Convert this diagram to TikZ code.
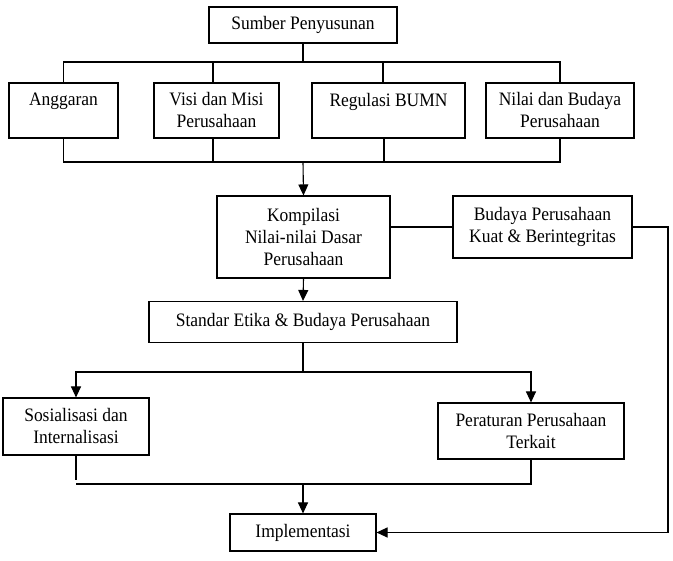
\documentclass[tikz,border=0pt]{standalone}
\usepackage{fontspec}
\setmainfont{Liberation Serif}[FakeStretch=0.92]
\usetikzlibrary{arrows.meta}
\tikzset{
  box/.style={draw, line width=1.1pt, align=center, inner sep=0pt,
    font=\fontsize{19}{22}\selectfont},
  conn/.style={line width=1.1pt},
  arr/.style={line width=1.1pt, -{Triangle[length=11pt,width=10pt]}},
}
\begin{document}
\begin{tikzpicture}[x=1pt,y=-1pt]
\useasboundingbox (0,0) rectangle (673,561);
\node[box, minimum width=188pt, minimum height=36pt] (src) at (303,25) {Sumber Penyusunan};
\node[box, minimum width=109pt, minimum height=55pt] (ang) at (63.5,110.5) {Anggaran\\\mbox{}};
\node[box, minimum width=125pt, minimum height=55pt] (vis) at (216.5,110.5) {Visi dan Misi\\Perusahaan};
\node[box, minimum width=153pt, minimum height=55pt] (reg) at (388.5,110.5) {Regulasi BUMN\\\mbox{}};
\node[box, minimum width=148pt, minimum height=55pt] (nil) at (560,110.5) {Nilai dan Budaya\\Perusahaan};
\node[box, minimum width=173pt, minimum height=82pt] (kom) at (303.5,237) {Kompilasi\\Nilai-nilai Dasar\\Perusahaan};
\node[box, minimum width=179pt, minimum height=62pt] (bud) at (542.5,227) {Budaya Perusahaan\\Kuat \& Berintegritas};
\node[box, minimum width=308pt, minimum height=41pt] (std) at (303,322) {Standar Etika \& Budaya Perusahaan};
\node[box, minimum width=146pt, minimum height=57pt] (sos) at (76,426.5) {Sosialisasi dan\\Internalisasi};
\node[box, minimum width=186pt, minimum height=56pt] (per) at (531,431) {Peraturan Perusahaan\\Terkait};
\node[box, minimum width=146pt, minimum height=37pt] (imp) at (303,532.5) {Implementasi};

\coordinate (tb) at (303,62);
\coordinate (bb) at (303,162);
\coordinate (mb) at (303,372);
\coordinate (lb) at (303,484);
\coordinate (rr) at (668,227);

% top fan-out
\draw[conn] (src.south) -- (tb);
\draw[conn] (ang.north) |- (tb -| nil.north) -- (nil.north);
\draw[conn] ([xshift=-3.5pt]vis.north) -- ([xshift=-3.5pt]vis.north |- tb);
\draw[conn] ([xshift=-5.5pt]reg.north) -- ([xshift=-5.5pt]reg.north |- tb);
% bottom fan-in
\draw[conn] (ang.south) |- (bb -| nil.south) -- (nil.south);
\draw[conn] ([xshift=-3.5pt]vis.south) -- ([xshift=-3.5pt]vis.south |- bb);
\draw[conn] ([xshift=-4.5pt]reg.south) -- ([xshift=-4.5pt]reg.south |- bb);
\draw[arr] (bb) -- (kom.north);
% kompilasi - budaya
\draw[conn] (bud.west) -- (bud.west -| kom.east);
\draw[arr] (bud.east) -- (rr) |- (imp.east);
\draw[arr] (kom.south) -- (std.north);
% standar split
\draw[conn] (std.south) -- (mb);
\draw[arr] (mb) -| (sos.north);
\draw[arr] (mb) -| (per.north);
% merge to implementasi
\draw[conn] (sos.south) -- ([yshift=-24pt]sos.south);
\draw[conn] (lb -| sos.south) -- (lb) -| (per.south);
\draw[arr] (lb) -- (imp.north);
\end{tikzpicture}
\end{document}
